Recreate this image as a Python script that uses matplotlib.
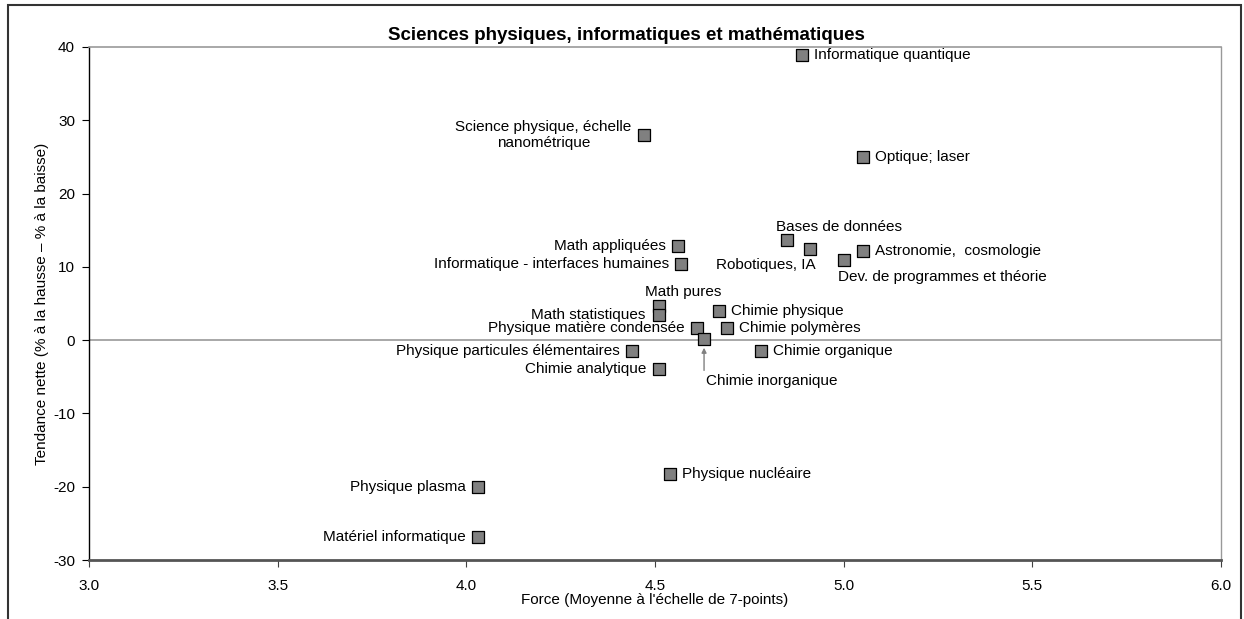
import matplotlib.pyplot as plt
from matplotlib.patches import Rectangle

plt.rcParams['font.family'] = ['Liberation Sans', 'DejaVu Sans']
plt.rcParams['axes.unicode_minus'] = False

# data
names = ['Informatique quantique', 'Science physique, échelle\nnanométrique',
         'Optique; laser', 'Bases de données', 'Robotiques, IA',
         'Astronomie,  cosmologie', 'Dev. de programmes et théorie',
         'Math appliquées', 'Informatique - interfaces humaines',
         'Math pures', 'Math statistiques', 'Chimie physique',
         'Physique matière condensée', 'Chimie polymères', 'Chimie inorganique',
         'Physique particules élémentaires', 'Chimie organique',
         'Chimie analytique', 'Physique nucléaire', 'Physique plasma',
         'Matériel informatique']
force = [4.89, 4.47, 5.05, 4.85, 4.91, 5.05, 5.00, 4.56, 4.57, 4.51, 4.51,
         4.67, 4.61, 4.69, 4.63, 4.44, 4.78, 4.51, 4.54, 4.03, 4.03]
tendance = [38.9, 28.0, 25.0, 13.6, 12.4, 12.1, 11.0, 12.9, 10.4, 4.7, 3.4,
            4.0, 1.7, 1.7, 0.1, -1.5, -1.5, -4.0, -18.2, -20.0, -26.8]
xticks = [3.0, 3.5, 4.0, 4.5, 5.0, 5.5, 6.0]
yticks = [-30, -20, -10, 0, 10, 20, 30, 40]

# where each label sits relative to its marker (pixels), and its alignment
label_pos = {
    'Science physique, échelle\nnanométrique': (-12, 0, 'right'),
    'Bases de données': (-11, 13, 'left'),
    'Robotiques, IA': (6, -16, 'right'),
    'Dev. de programmes et théorie': (-6, -17, 'left'),
    'Math appliquées': (-12, 0, 'right'),
    'Informatique - interfaces humaines': (-12, 0, 'right'),
    'Math pures': (24, 14, 'center'),
    'Math statistiques': (-13, 0, 'right'),
    'Physique matière condensée': (-12, 0, 'right'),
    'Chimie inorganique': (2, -42, 'left'),
    'Physique particules élémentaires': (-13, 0, 'right'),
    'Chimie analytique': (-12, 0, 'right'),
    'Physique plasma': (-12, 0, 'right'),
    'Matériel informatique': (-12, 0, 'right'),
}

fig = plt.figure(figsize=(12.44, 6.19), dpi=100)
ax = fig.add_axes([89 / 1244, 1 - 560 / 619, 1132 / 1244, 513 / 619])

ax.axhline(0, color='#999999', lw=1.2, zorder=1)
ax.scatter(force, tendance, marker='s', s=80, c='#808080',
           edgecolors='black', linewidths=0.9, zorder=3)

for n, x, y in zip(names, force, tendance):
    dx, dy, ha = label_pos.get(n, (12, 0, 'left'))
    ax.annotate(n, (x, y), xytext=(dx, dy), textcoords='offset pixels',
                ha=ha, va='center', multialignment='center', fontsize=11)
    if n == 'Chimie inorganique':
        ax.annotate('', (x, y), xytext=(0, -31), textcoords='offset pixels',
                    arrowprops=dict(arrowstyle='-|>', color='#808080', lw=1,
                                    mutation_scale=7, shrinkA=0, shrinkB=6))

ax.set_xlim(3.0, 6.0)
ax.set_ylim(-30, 40)
ax.set_xticks(xticks)
ax.set_xticklabels(['%.1f' % t for t in xticks])
ax.set_yticks(yticks)
ax.tick_params(axis='x', length=5, pad=9, labelsize=11, color='#404040')
ax.tick_params(axis='y', length=5, pad=5, labelsize=11)

ax.spines['left'].set_color('black')
ax.spines['left'].set_linewidth(1)
ax.spines['bottom'].set_color('#555555')
ax.spines['bottom'].set_linewidth(2)
ax.spines['top'].set_color('#999999')
ax.spines['right'].set_color('#999999')
ax.spines['top'].set_linewidth(1.2)
ax.spines['right'].set_linewidth(1)

ax.set_xlabel("Force (Moyenne à l'échelle de 7-points)", fontsize=11, labelpad=0)
ax.set_ylabel('Tendance nette (% à la hausse – % à la baisse)', fontsize=11,
              labelpad=3)
fig.text(626 / 1244, 1 - 35 / 619, 'Sciences physiques, informatiques et mathématiques',
         ha='center', va='center', fontsize=13.5, fontweight='bold')

# chart frame
fig.patches.append(Rectangle((8 / 1244, -0.02), 1233 / 1244, 1.02 - 5 / 619,
                             transform=fig.transFigure, fill=False,
                             edgecolor='#333333', lw=1.5))

fig.savefig('out.png', dpi=100)
